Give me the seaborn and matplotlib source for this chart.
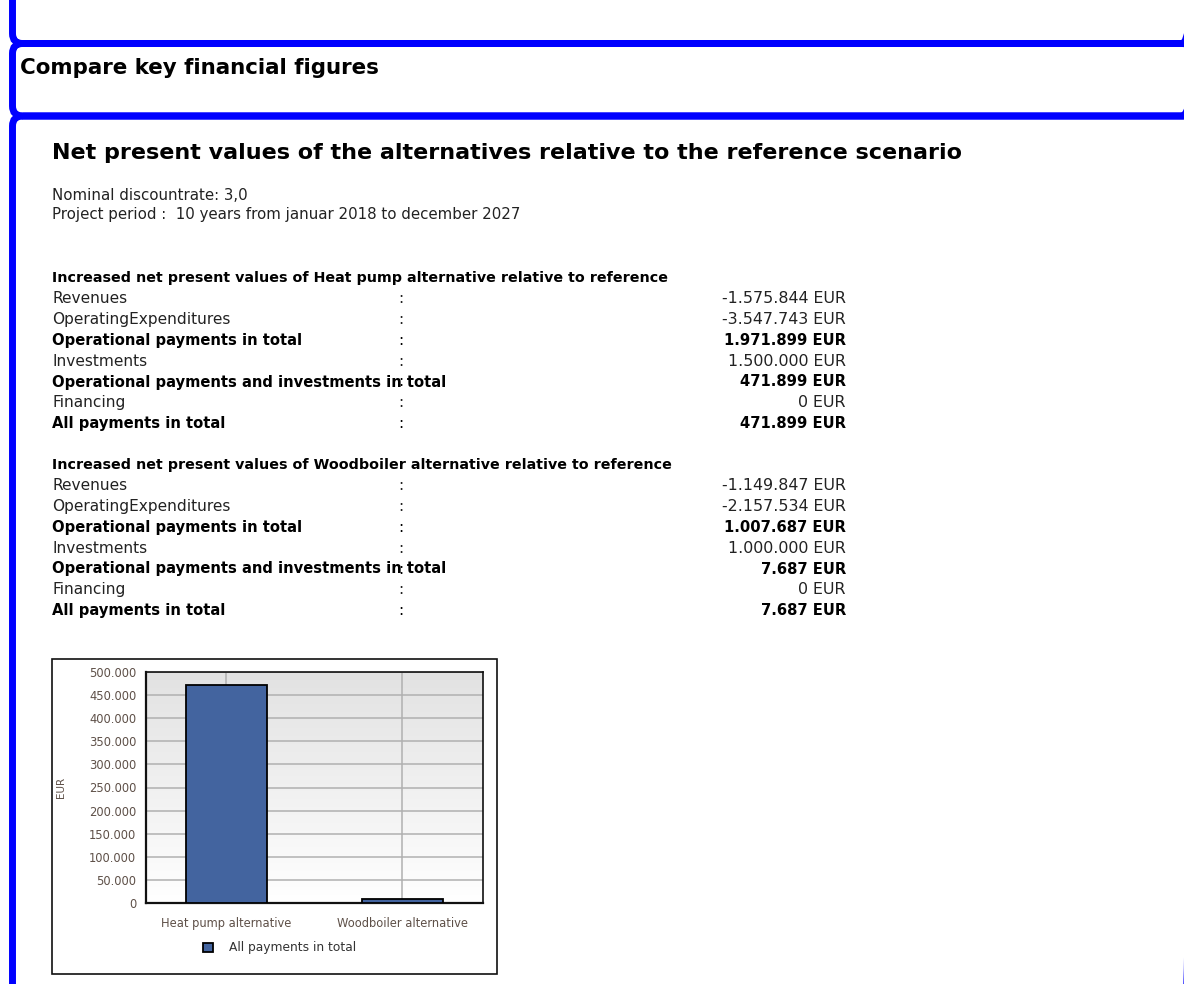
import numpy as np
import pandas as pd
import matplotlib
matplotlib.use("Agg")
import matplotlib.pyplot as plt
import seaborn as sns
from matplotlib.patches import FancyBboxPatch, Rectangle
from matplotlib.colors import LinearSegmentedColormap
from matplotlib.ticker import FixedLocator, MultipleLocator, FuncFormatter

# ---------------- report content ----------------
section_title = "Compare key financial figures"
report_title = "Net present values of the alternatives relative to the reference scenario"
discount_line = "Nominal discountrate: 3,0"
period_line = "Project period :  10 years from januar 2018 to december 2027"

alternatives = ["Heat pump alternative", "Woodboiler alternative"]
table_headers = [
    "Increased net present values of Heat pump alternative relative to reference",
    "Increased net present values of Woodboiler alternative relative to reference",
]
row_labels = [
    "Revenues",
    "OperatingExpenditures",
    "Operational payments in total",
    "Investments",
    "Operational payments and investments in total",
    "Financing",
    "All payments in total",
]
row_is_total = [False, False, True, False, True, False, True]
heat_pump_npv = [-1575844, -3547743, 1971899, 1500000, 471899, 0, 471899]
woodboiler_npv = [-1149847, -2157534, 1007687, 1000000, 7687, 0, 7687]

series_name = "All payments in total"
chart_values = [heat_pump_npv[-1], woodboiler_npv[-1]]
y_ticks = list(range(0, 500001, 50000))
y_label = "EUR"

# ---------------- styling ----------------
sns.set_theme(style="white")
plt.rcParams["font.family"] = ["DejaVu Sans"]

W, H = 1184, 984
BLUE = "#0000ff"
BAR = "#43649f"
LABEL_COL = "#5e5048"


def thousands(v):
    return f"{int(v):,}".replace(",", ".")


fig = plt.figure(figsize=(W / 100, H / 100), dpi=100)
fig.patch.set_facecolor("white")

# page layer in pixel coordinates
page = fig.add_axes([0, 0, 1, 1])
page.set_xlim(0, W)
page.set_ylim(H, 0)
page.axis("off")

# rounded section frames
for top, bottom in [(-60, 43.5), (43.5, 116), (116, 1060)]:
    page.add_patch(FancyBboxPatch((12.5, top), 1192 - 12.5, bottom - top,
                                  boxstyle="round,pad=0,rounding_size=10",
                                  lw=5, ec=BLUE, fc="none"))

page.text(20, 68, section_title, fontsize=15.4, fontweight="bold", va="center", color="black")
page.text(52, 153, report_title, fontsize=16, fontweight="bold", va="center", color="black")
page.text(52, 195, discount_line, fontsize=10.8, va="center", color="#222222")
page.text(52, 215, period_line, fontsize=10.8, va="center", color="#222222")

# value tables
ROW_STEP = 20.8
FS_REG = 11.1
FS_BOLD = 10.6
for header_y, header, values in [(278, table_headers[0], heat_pump_npv),
                                 (465, table_headers[1], woodboiler_npv)]:
    page.text(52, header_y, header, fontsize=10.3, fontweight="bold", va="center", color="black")
    for i, (lab, total, val) in enumerate(zip(row_labels, row_is_total, values)):
        y = header_y + ROW_STEP * (i + 1)
        if total:
            weight, col, fs, fs_val = "bold", "black", FS_BOLD, FS_BOLD
        else:
            weight, col, fs, fs_val = "normal", "#222222", FS_REG, 11.4
        page.text(52, y, lab, fontsize=fs, fontweight=weight, va="center", color=col)
        page.text(398, y, ":", fontsize=FS_REG, va="center", color=col)
        page.text(846, y, thousands(val) + " EUR", fontsize=fs_val, fontweight=weight,
                  va="center", ha="right", color=col)

# chart frame
page.add_patch(Rectangle((52, 659), 445, 315, fc="white", ec="#111111", lw=1.2))

# ---------------- bar chart ----------------
ax = fig.add_axes([146 / W, 1 - 903 / H, 337 / W, 231 / H])
ax.set_facecolor("white")

grad = np.linspace(0, 1, 256).reshape(-1, 1)
ax.imshow(grad, cmap=LinearSegmentedColormap.from_list("bg", ["#ffffff", "#e2e2e2"]),
          extent=[0, 1, 0, 1], transform=ax.transAxes, aspect="auto",
          origin="lower", zorder=0)

df = pd.DataFrame({"alternative": alternatives, "npv": chart_values})
sns.barplot(data=df, x="alternative", y="npv", color=BAR, saturation=1,
            width=0.46, edgecolor="black", linewidth=1.3, ax=ax, zorder=3)

ax.set_xlim(-0.455, 1.46)
ax.set_ylim(0, 500000)
ax.set_axisbelow(True)
ax.grid(True, color="#b0b0b0", lw=1.1)

ax.yaxis.set_major_locator(FixedLocator(y_ticks))
ax.yaxis.set_minor_locator(MultipleLocator(10000))
ax.yaxis.set_major_formatter(FuncFormatter(lambda v, p: thousands(v)))
ax.xaxis.set_minor_locator(FixedLocator([-0.25, 0.245, 0.505, 0.75, 1.25]))

ax.tick_params(axis="both", which="major", direction="out", length=5, width=1,
               color="#222222", labelsize=8.3, labelcolor=LABEL_COL, pad=2)
ax.tick_params(axis="both", which="minor", direction="out", length=3, width=0.8,
               color="#222222")
ax.tick_params(axis="x", which="major", pad=5)

ax.set_xlabel("")
ax.set_ylabel(y_label, fontsize=7.5, color=LABEL_COL)
ax.yaxis.set_label_coords((66 - 146) / 337, 0.5)
for side, sp in ax.spines.items():
    sp.set_color("#111111")
    sp.set_linewidth(1.6 if side in ("left", "bottom") else 1.2)

handle = Rectangle((0, 0), 1, 1, fc=BAR, ec="black", lw=1.3)
fig.legend([handle], [series_name], loc="center left",
           bbox_to_anchor=(203 / W, 1 - 948 / H), frameon=False,
           handlelength=0.8, handleheight=0.8, handletextpad=1.3,
           borderpad=0, borderaxespad=0,
           prop={"size": 8.8})
for t in fig.legends[0].get_texts():
    t.set_color("#333333")

fig.savefig("out.png", dpi=100)
